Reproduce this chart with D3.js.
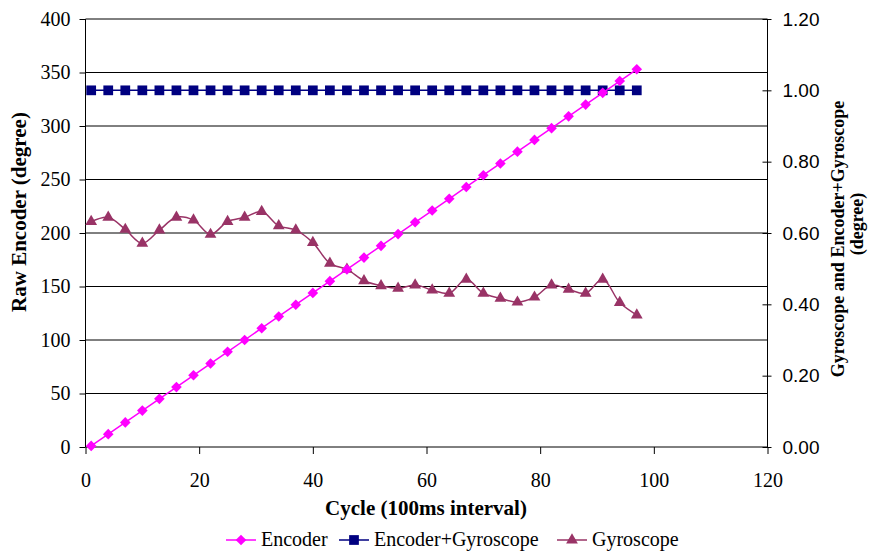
<!DOCTYPE html>
<html>
<head>
<meta charset="utf-8">
<script src="https://cdn.jsdelivr.net/npm/d3@7"></script>
<style>
  html, body { margin: 0; padding: 0; background: #fff; }
  svg { display: block; }
</style>
</head>
<body>
<svg id="chart" width="870" height="552"></svg>
<script>
// Sample cycles (100 ms interval)
const cycles = [1, 4, 7, 10, 13, 16, 19, 22, 25, 28, 31, 34, 37, 40, 43, 46, 49,
  52, 55, 58, 61, 64, 67, 70, 73, 76, 79, 82, 85, 88, 91, 94, 97];

// Raw encoder reading (degree), left axis
const encoder = [1, 12, 23, 34, 45, 56, 67, 78, 89, 100, 111, 122, 133, 144, 155, 166, 177,
  188, 199, 210, 221, 232, 243, 254, 265, 276, 287, 298, 309, 320, 331, 342, 353];

// Encoder+Gyroscope (degree), right axis
const encoderGyro = [1, 1, 1, 1, 1, 1, 1, 1, 1, 1, 1, 1, 1, 1, 1, 1, 1,
  1, 1, 1, 1, 1, 1, 1, 1, 1, 1, 1, 1, 1, 1, 1, 1];

// Gyroscope (degree), right axis
const gyroscope = [0.632, 0.644, 0.610, 0.571, 0.608, 0.644, 0.636, 0.596, 0.632, 0.644, 0.660,
  0.620, 0.608, 0.573, 0.515, 0.498, 0.466, 0.452, 0.445, 0.454, 0.440, 0.431, 0.470,
  0.431, 0.417, 0.406, 0.420, 0.454, 0.442, 0.431, 0.470, 0.405, 0.370];

const xTicks = [0, 20, 40, 60, 80, 100, 120];
const leftTicks = [0, 50, 100, 150, 200, 250, 300, 350, 400];
const rightTicks = [0, 0.2, 0.4, 0.6, 0.8, 1.0, 1.2];

const seriesNames = ["Encoder", "Encoder+Gyroscope", "Gyroscope"];
const seriesColors = ["#FF00FF", "#000080", "#993366"];

const svg = d3.select("#chart");
const plot = { left: 85.5, right: 767.5, top: 19, bottom: 447 };

const x = d3.scaleLinear().domain([0, 120]).range([plot.left, plot.right]);
const yL = d3.scaleLinear().domain([0, 400]).range([plot.bottom, plot.top]);
const yR = d3.scaleLinear().domain([0, 1.2]).range([plot.bottom, plot.top]);

const serif = "'Liberation Serif', 'Times New Roman', serif";
const sans = "'Liberation Sans', Arial, sans-serif";

// Horizontal gridlines from the left axis
svg.append("g")
  .selectAll("line")
  .data(leftTicks.filter(d => d > 0))
  .join("line")
  .attr("x1", plot.left).attr("x2", plot.right)
  .attr("y1", d => yL(d)).attr("y2", d => yL(d))
  .attr("stroke", "#000").attr("stroke-width", 1);

// Left axis
const gL = svg.append("g")
  .attr("transform", `translate(${plot.left},0)`)
  .call(d3.axisLeft(yL).tickValues(leftTicks).tickSize(6).tickPadding(9).tickFormat(d3.format("d")));
gL.attr("font-family", serif).attr("font-size", 20);
gL.select(".domain").attr("stroke", "#000").attr("d", `M0,${plot.top}V${plot.bottom}`);
gL.selectAll("text").style("font-family", serif).style("font-size", "20px").attr("fill", "#000");

// Right axis (ticks cross the axis line)
const gR = svg.append("g")
  .attr("transform", `translate(${plot.right},0)`)
  .call(d3.axisRight(yR).tickValues(rightTicks).tickSize(4).tickPadding(11).tickFormat(d3.format(".2f")));
gR.attr("font-family", sans).attr("font-size", 19);
gR.select(".domain").attr("stroke", "#000").attr("d", `M0,${plot.top}V${plot.bottom}`);
gR.selectAll(".tick line").attr("x1", -5).attr("x2", 4);
gR.selectAll("text").style("font-family", sans).style("font-size", "19px").attr("fill", "#000");

// Bottom axis
const gB = svg.append("g")
  .attr("transform", `translate(0,${plot.bottom})`)
  .call(d3.axisBottom(x).tickValues(xTicks).tickSize(7).tickPadding(19).tickFormat(d3.format("d")));
gB.attr("font-family", serif).attr("font-size", 20);
gB.select(".domain").attr("stroke", "#000").attr("d", `M${plot.left},0H${plot.right}`);
gB.selectAll("text").style("font-family", serif).style("font-size", "20px").attr("fill", "#000");

// Axis titles
svg.append("text")
  .attr("transform", `translate(26,212) rotate(-90)`)
  .attr("text-anchor", "middle")
  .style("font-family", serif).attr("font-weight", "bold").style("font-size", "21px")
  .text("Raw Encoder (degree)");

svg.append("text")
  .attr("transform", `translate(844,239) rotate(-90)`)
  .attr("text-anchor", "middle")
  .style("font-family", serif).attr("font-weight", "bold").style("font-size", "18px")
  .text("Gyroscope and Encoder+Gyroscope");
svg.append("text")
  .attr("transform", `translate(863,224) rotate(-90)`)
  .attr("text-anchor", "middle")
  .style("font-family", serif).attr("font-weight", "bold").style("font-size", "18px")
  .text("(degree)");

svg.append("text")
  .attr("x", 426).attr("y", 515)
  .attr("text-anchor", "middle")
  .style("font-family", serif).attr("font-weight", "bold").style("font-size", "21px")
  .text("Cycle (100ms interval)");

// Marker shapes
const diamond = d3.symbol().type(d3.symbolDiamond2).size(72);
const square = d3.symbol().type(d3.symbolSquare).size(95);
const triangle = d3.symbol().type(d3.symbolTriangle).size(60);

function drawSeries(values, yScale, color, curve, sym) {
  const pts = cycles.map((c, i) => [c, values[i]]);
  const line = d3.line().x(d => x(d[0])).y(d => yScale(d[1])).curve(curve);
  svg.append("path").datum(pts)
    .attr("d", line).attr("fill", "none")
    .attr("stroke", color).attr("stroke-width", 1.5);
  svg.append("g").selectAll("path")
    .data(pts).join("path")
    .attr("transform", d => `translate(${x(d[0])},${yScale(d[1])})`)
    .attr("d", sym).attr("fill", color);
}

drawSeries(gyroscope, yR, seriesColors[2], d3.curveCatmullRom.alpha(0.5), triangle);
drawSeries(encoderGyro, yR, seriesColors[1], d3.curveLinear, square);
drawSeries(encoder, yL, seriesColors[0], d3.curveLinear, diamond);

// Legend
const legendItems = [
  { name: seriesNames[0], color: seriesColors[0], sym: diamond, x: 226 },
  { name: seriesNames[1], color: seriesColors[1], sym: square, x: 339 },
  { name: seriesNames[2], color: seriesColors[2], sym: triangle, x: 557 }
];
const lg = svg.append("g");
legendItems.forEach(it => {
  const g = lg.append("g").attr("transform", `translate(${it.x},540)`);
  g.append("line").attr("x1", 0).attr("x2", 30).attr("y1", 0).attr("y2", 0)
    .attr("stroke", it.color).attr("stroke-width", 1.5);
  g.append("path").attr("transform", "translate(15,0)").attr("d", it.sym).attr("fill", it.color);
  g.append("text").attr("x", 35).attr("y", 6)
    .style("font-family", serif).style("font-size", "20px").text(it.name);
});
</script>
</body>
</html>
